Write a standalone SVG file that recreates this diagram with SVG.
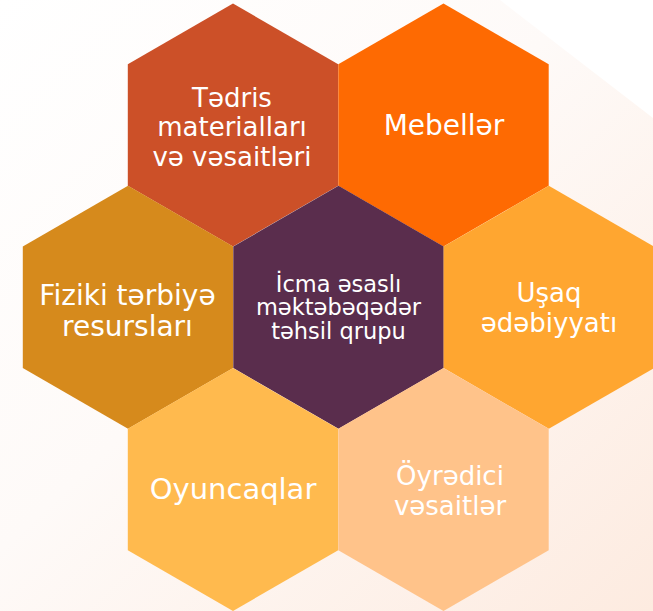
<svg xmlns="http://www.w3.org/2000/svg" xmlns:xlink="http://www.w3.org/1999/xlink" width="653" height="611" viewBox="0 0 653 611">
  <style>
    .lbl { font-family: "DejaVu Sans", "Liberation Sans", sans-serif; fill: #ffffff; text-anchor: middle; font-size: 26px; }
    .ctr { font-size: 22.5px; }
  </style>
  <defs>
    <linearGradient id="bg" x1="0" y1="0" x2="1" y2="1">
      <stop offset="0" stop-color="#ffffff"/>
      <stop offset="0.45" stop-color="#fefaf8"/>
      <stop offset="1" stop-color="#fdebe0"/>
    </linearGradient>
    <polygon id="hex" points="0,-121.5 105.2,-60.75 105.2,60.75 0,121.5 -105.2,60.75 -105.2,-60.75"/>
  </defs>
  <rect x="0" y="0" width="653" height="611" fill="#ffffff"/>
  <polygon points="0,0 500,0 653,118 653,611 0,611" fill="url(#bg)"/>

  <g id="connectors"></g>

  <g id="node-tedris">
    <use xlink:href="#hex" transform="translate(233,125)" fill="#cc5028"/>
    <text class="lbl" x="232" y="106.5">Tədris</text>
    <text class="lbl" x="232" y="136">materialları</text>
    <text class="lbl" x="232" y="165.5">və vəsaitləri</text>
  </g>
  <g id="node-mebeller">
    <use xlink:href="#hex" transform="translate(443.5,125)" fill="#fe6a02"/>
    <text class="lbl" x="444" y="135" style="font-size:28px">Mebellər</text>
  </g>
  <g id="node-fiziki">
    <use xlink:href="#hex" transform="translate(128,307.3)" fill="#d68a1c"/>
    <text class="lbl" x="127.5" y="304.5" style="font-size:28px">Fiziki tərbiyə</text>
    <text class="lbl" x="127.5" y="335.5" style="font-size:28px">resursları</text>
  </g>
  <g id="node-center">
    <use xlink:href="#hex" transform="translate(338.5,307.3)" fill="#5a2d4d"/>
    <text class="lbl ctr" x="338.5" y="291.5">İcma əsaslı</text>
    <text class="lbl ctr" x="338.5" y="315">məktəbəqədər</text>
    <text class="lbl ctr" x="338.5" y="338.5">təhsil qrupu</text>
  </g>
  <g id="node-usaq">
    <use xlink:href="#hex" transform="translate(548.8,307.3)" fill="#ffa630"/>
    <text class="lbl" x="549" y="301.5">Uşaq</text>
    <text class="lbl" x="549" y="331.5">ədəbiyyatı</text>
  </g>
  <g id="node-oyuncaqlar">
    <use xlink:href="#hex" transform="translate(233,489.5)" fill="#ffba4e"/>
    <text class="lbl" x="233" y="498.5" style="font-size:29px">Oyuncaqlar</text>
  </g>
  <g id="node-oyredici">
    <use xlink:href="#hex" transform="translate(443.5,489.5)" fill="#ffc38a"/>
    <text class="lbl" x="450" y="485">Öyrədici</text>
    <text class="lbl" x="450" y="515">vəsaitlər</text>
  </g>
</svg>
